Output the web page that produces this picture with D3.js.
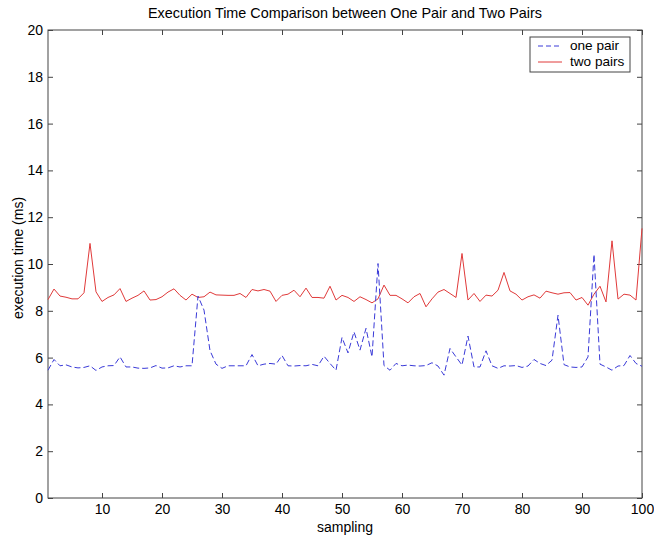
<!DOCTYPE html>
<html>
<head>
<meta charset="utf-8">
<script src="https://cdn.jsdelivr.net/npm/d3@7"></script>
<style>
  body { margin: 0; background: #fff; }
  text { font-family: "Liberation Sans", Arial, sans-serif; fill: #000; }
</style>
</head>
<body>
<div id="chart"></div>
<script>
var svgWidth = 654;
var svgHeight = 539;

var margin = { top: 30, right: 12, bottom: 41, left: 48 };
var width = svgWidth - margin.left - margin.right;
var height = svgHeight - margin.top - margin.bottom;

// sampling index 1..100
var samples = d3.range(1, 101);

// one pair (dashed blue)
var onePair = [
  5.46, 5.92, 5.65, 5.69, 5.60, 5.56, 5.58, 5.65, 5.45, 5.60,
  5.65, 5.66, 6.03, 5.60, 5.60, 5.55, 5.54, 5.56, 5.66, 5.55,
  5.56, 5.65, 5.60, 5.65, 5.65, 8.63, 8.03, 6.30, 5.72, 5.54,
  5.65, 5.65, 5.65, 5.65, 6.13, 5.65, 5.72, 5.75, 5.72, 6.09,
  5.65, 5.64, 5.66, 5.65, 5.71, 5.65, 6.06, 5.75, 5.46, 6.86,
  6.20, 7.10, 6.32, 7.25, 6.03, 10.02, 5.66, 5.46, 5.75, 5.65,
  5.68, 5.65, 5.64, 5.66, 5.78, 5.64, 5.25, 6.39, 6.03, 5.68,
  6.92, 5.60, 5.60, 6.29, 5.65, 5.54, 5.65, 5.64, 5.66, 5.58,
  5.64, 5.92, 5.75, 5.66, 5.89, 7.81, 5.70, 5.60, 5.58, 5.60,
  6.03, 10.41, 5.72, 5.60, 5.46, 5.64, 5.66, 6.09, 5.75, 5.63
];

// two pairs (solid red)
var twoPairs = [
  8.48, 8.93, 8.63, 8.58, 8.51, 8.51, 8.77, 10.88, 8.81, 8.40,
  8.57, 8.68, 8.95, 8.40, 8.54, 8.66, 8.85, 8.46, 8.48, 8.60,
  8.80, 8.94, 8.66, 8.46, 8.71, 8.57, 8.60, 8.80, 8.68, 8.67,
  8.66, 8.66, 8.74, 8.57, 8.91, 8.85, 8.91, 8.84, 8.40, 8.66,
  8.71, 8.88, 8.60, 8.97, 8.57, 8.57, 8.54, 9.05, 8.46, 8.66,
  8.57, 8.40, 8.60, 8.48, 8.34, 8.51, 9.10, 8.66, 8.66, 8.51,
  8.34, 8.60, 8.74, 8.17, 8.51, 8.80, 8.91, 8.74, 8.57, 10.45,
  8.46, 8.74, 8.40, 8.67, 8.63, 8.88, 9.64, 8.85, 8.71, 8.46,
  8.60, 8.68, 8.54, 8.84, 8.77, 8.71, 8.77, 8.78, 8.46, 8.57,
  8.24, 8.71, 9.05, 8.38, 10.99, 8.50, 8.71, 8.67, 8.46, 11.52
];

var xTicks = [10, 20, 30, 40, 50, 60, 70, 80, 90, 100];
var yTicks = [0, 2, 4, 6, 8, 10, 12, 14, 16, 18, 20];

var svg = d3.select("#chart")
  .append("svg")
  .attr("width", svgWidth)
  .attr("height", svgHeight);

var chartGroup = svg.append("g")
  .attr("transform", `translate(${margin.left}, ${margin.top})`);

var xScale = d3.scaleLinear().domain([1, 100]).range([0, width]);
var yScale = d3.scaleLinear().domain([0, 20]).range([height, 0]);

// axes with inward ticks, matlab style
function styleAxis(g) {
  g.select(".domain").remove();
  g.selectAll(".tick line").attr("stroke", "#444");
  g.selectAll("text").style("font-size", "14px").attr("fill", "#000");
}

chartGroup.append("g")
  .attr("transform", `translate(0, ${height})`)
  .call(d3.axisBottom(xScale).tickValues(xTicks).tickSizeInner(-5).tickSizeOuter(0).tickPadding(6))
  .call(styleAxis);

chartGroup.append("g")
  .call(d3.axisTop(xScale).tickValues(xTicks).tickSizeInner(-5).tickSizeOuter(0).tickFormat(""))
  .call(styleAxis);

chartGroup.append("g")
  .call(d3.axisLeft(yScale).tickValues(yTicks).tickSizeInner(-5).tickSizeOuter(0).tickPadding(5))
  .call(styleAxis);

chartGroup.append("g")
  .attr("transform", `translate(${width}, 0)`)
  .call(d3.axisRight(yScale).tickValues(yTicks).tickSizeInner(-5).tickSizeOuter(0).tickFormat(""))
  .call(styleAxis);

// frame
chartGroup.append("rect")
  .attr("width", width)
  .attr("height", height)
  .attr("fill", "none")
  .attr("stroke", "#444")
  .attr("stroke-width", 1);

var line = d3.line()
  .x(d => xScale(d[0]))
  .y(d => yScale(d[1]));

chartGroup.append("path")
  .datum(samples.map((s, i) => [s, twoPairs[i]]))
  .attr("fill", "none")
  .attr("stroke", "#e03a3a")
  .attr("stroke-width", 1)
  .attr("d", line);

chartGroup.append("path")
  .datum(samples.map((s, i) => [s, onePair[i]]))
  .attr("fill", "none")
  .attr("stroke", "#3a3ad8")
  .attr("stroke-width", 1)
  .attr("stroke-dasharray", "6,3")
  .attr("d", line);

// title and axis labels
svg.append("text")
  .attr("x", margin.left + width / 2)
  .attr("y", 18)
  .attr("text-anchor", "middle")
  .style("font-size", "14.4px")
  .text("Execution Time Comparison between One Pair and Two Pairs");

svg.append("text")
  .attr("x", margin.left + width / 2)
  .attr("y", 531.5)
  .attr("text-anchor", "middle")
  .style("font-size", "14px")
  .text("sampling");

svg.append("text")
  .attr("transform", "translate(23, 258) rotate(-90)")
  .attr("text-anchor", "middle")
  .style("font-size", "14px")
  .text("execution time (ms)");

// legend
var legend = svg.append("g").attr("transform", "translate(530, 37)");
legend.append("rect")
  .attr("width", 100)
  .attr("height", 35)
  .attr("fill", "#fff")
  .attr("stroke", "#444");

var legendItems = [
  { label: "one pair", color: "#3a3ad8", dash: "5,3" },
  { label: "two pairs", color: "#e03a3a", dash: null }
];

legendItems.forEach(function(item, i) {
  var yPos = 9 + i * 16;
  legend.append("line")
    .attr("x1", 8).attr("x2", 32)
    .attr("y1", yPos).attr("y2", yPos)
    .attr("stroke", item.color)
    .attr("stroke-dasharray", item.dash);
  legend.append("text")
    .attr("x", 40)
    .attr("y", yPos + 4)
    .style("font-size", "13.6px")
    .text(item.label);
});
</script>
</body>
</html>
